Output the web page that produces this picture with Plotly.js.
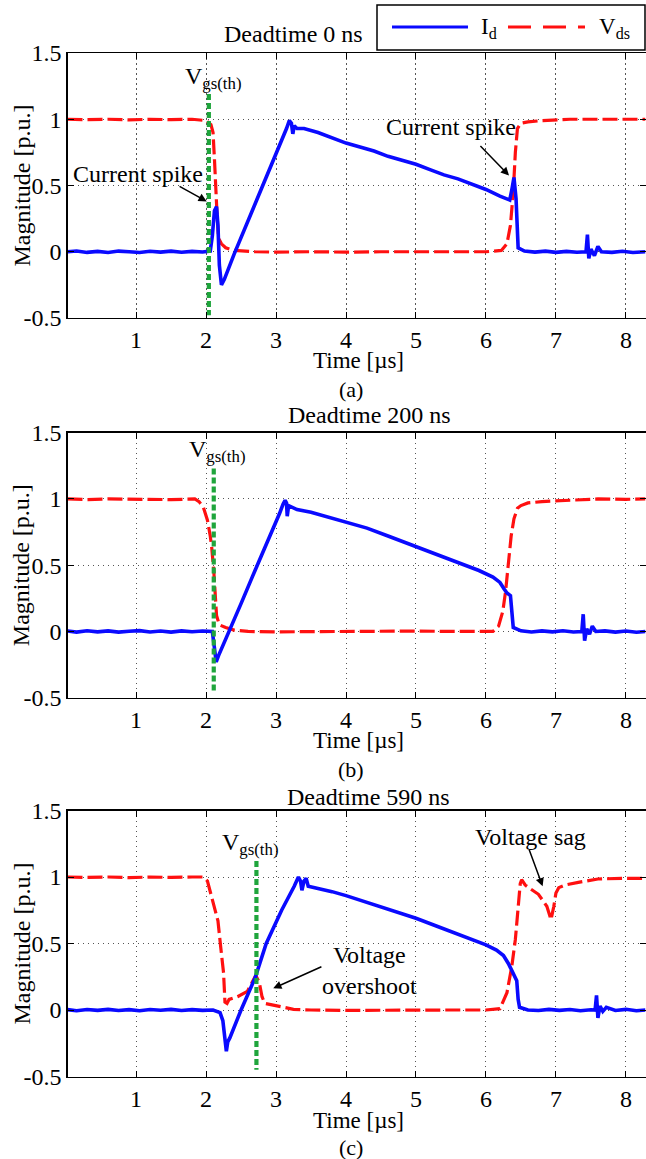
<!DOCTYPE html>
<html><head><meta charset="utf-8">
<script src="https://cdn.plot.ly/plotly-3.0.1.min.js"></script>
<style>html,body{margin:0;padding:0;background:#fff;} #chart{width:646px;height:1159px;}</style>
</head><body><div id="chart"></div>
<script>
// ---------- data (time in µs, magnitude in p.u.) ----------
const panelTitles = ['Deadtime 0 ns', 'Deadtime 200 ns', 'Deadtime 590 ns'];
const panelCaptions = ['(a)', '(b)', '(c)'];
const xAxisTitle = 'Time [µs]';
const yAxisTitle = 'Magnitude [p.u.]';
const xTickVals = [1, 2, 3, 4, 5, 6, 7, 8];
const yTickVals = [-0.5, 0, 0.5, 1, 1.5];
const yTickText = ['-0.5', '0', '0.5', '1', '1.5'];

// Panel (a) – deadtime 0 ns
const timeIdA = [0.02,0.15,0.3,0.45,0.6,0.75,0.9,1.05,1.2,1.35,1.5,1.65,1.8,1.95,2.06,2.09,2.12,2.15,2.17,2.19,2.22,2.26,2.4,2.6,2.8,3.0,3.15,3.19,3.22,3.24,3.26,3.3,3.4,3.6,3.8,4.0,4.2,4.4,4.6,4.8,5.0,5.2,5.4,5.6,5.8,6.0,6.2,6.34,6.37,6.4,6.43,6.46,6.55,6.7,6.85,7.0,7.15,7.3,7.43,7.45,7.47,7.5,7.55,7.6,7.65,7.8,7.95,8.1,8.28];
const idA = [0.0,0.006,-0.005,0.003,-0.006,0.005,0.0,-0.006,0.004,-0.003,0.005,-0.004,0.003,-0.002,0.005,0.12,0.31,0.34,0.2,-0.1,-0.25,-0.21,-0.02,0.23,0.48,0.73,0.93,0.99,0.97,0.89,0.95,0.93,0.93,0.9,0.86,0.82,0.79,0.76,0.72,0.69,0.66,0.62,0.58,0.55,0.51,0.47,0.42,0.39,0.47,0.56,0.4,0.03,0.005,-0.003,0.005,-0.005,0.003,-0.004,0.0,0.13,-0.05,0.02,-0.03,0.04,0.0,-0.005,0.004,-0.006,0.0];
const timeVdsA = [0.02,0.3,0.6,0.9,1.2,1.5,1.8,2.0,2.07,2.1,2.12,2.14,2.16,2.18,2.22,2.28,2.4,2.7,3.0,3.5,4.0,4.5,5.0,5.5,6.0,6.22,6.3,6.35,6.39,6.42,6.45,6.5,6.6,6.8,7.2,7.6,8.0,8.28];
const vdsA = [1.0,0.997,1.0,0.995,1.0,0.997,1.0,0.99,0.96,0.9,0.7,0.45,0.25,0.1,0.06,0.03,0.01,0.0,-0.003,0.0,-0.003,0.0,-0.003,0.0,0.0,0.01,0.06,0.2,0.45,0.75,0.93,0.97,0.98,0.99,1.0,0.997,1.0,1.0];

// Panel (b) – deadtime 200 ns
const timeIdB = [0.02,0.15,0.3,0.45,0.6,0.75,0.9,1.05,1.2,1.35,1.5,1.65,1.8,1.95,2.09,2.11,2.13,2.145,2.18,2.3,2.5,2.7,2.9,3.05,3.1,3.13,3.15,3.16,3.18,3.22,3.3,3.5,3.7,4.0,4.3,4.6,5.0,5.3,5.6,5.9,6.1,6.2,6.26,6.3,6.35,6.37,6.39,6.5,6.65,6.8,6.95,7.1,7.25,7.37,7.39,7.41,7.44,7.48,7.52,7.57,7.7,7.85,8.0,8.15,8.28];
const idB = [0.003,-0.005,0.005,-0.003,0.004,-0.005,0.002,0.006,-0.004,0.003,-0.005,0.004,-0.002,0.003,0.0,-0.08,-0.2,-0.23,-0.18,-0.04,0.21,0.46,0.7,0.89,0.96,0.99,0.97,0.87,0.95,0.94,0.92,0.9,0.87,0.83,0.78,0.72,0.64,0.58,0.52,0.46,0.41,0.37,0.32,0.29,0.27,0.1,0.03,0.005,-0.004,0.004,-0.003,0.005,-0.004,0.0,0.13,-0.07,0.02,-0.02,0.04,0.0,0.004,-0.005,0.003,-0.006,0.0];
const timeVdsB = [0.02,0.3,0.6,0.9,1.2,1.5,1.84,1.9,1.96,2.02,2.06,2.08,2.11,2.13,2.15,2.19,2.28,2.4,2.6,3.0,3.5,4.0,4.5,5.0,5.5,6.1,6.18,6.24,6.28,6.32,6.36,6.4,6.45,6.5,6.6,6.8,7.2,7.6,8.0,8.28];
const vdsB = [1.0,0.995,1.0,0.997,1.0,0.995,1.0,0.98,0.94,0.84,0.72,0.64,0.46,0.25,0.12,0.05,0.03,0.01,0.0,-0.003,0.0,-0.003,0.0,0.003,0.0,0.0,0.04,0.15,0.3,0.5,0.72,0.85,0.93,0.95,0.97,0.98,0.99,1.0,0.997,1.0];

// Panel (c) – deadtime 590 ns
const timeIdC = [0.02,0.15,0.3,0.45,0.6,0.75,0.9,1.05,1.2,1.35,1.5,1.65,1.8,1.95,2.1,2.2,2.24,2.27,2.29,2.31,2.34,2.5,2.7,2.86,3.08,3.26,3.32,3.35,3.37,3.4,3.43,3.46,3.55,3.8,4.0,4.3,4.6,5.0,5.3,5.6,5.8,6.0,6.15,6.25,6.32,6.38,6.44,6.46,6.48,6.6,6.75,6.9,7.05,7.2,7.35,7.5,7.56,7.58,7.6,7.63,7.67,7.72,7.85,8.0,8.15,8.28];
const idC = [0.003,-0.005,0.004,-0.003,0.005,-0.004,0.003,-0.005,0.004,-0.002,0.005,-0.004,0.003,-0.003,0.0,-0.02,-0.08,-0.2,-0.31,-0.24,-0.21,0.0,0.24,0.5,0.75,0.93,1.0,0.97,0.9,0.97,0.99,0.93,0.92,0.89,0.86,0.81,0.76,0.69,0.63,0.57,0.53,0.49,0.45,0.41,0.35,0.28,0.22,0.08,0.02,0.0,-0.004,0.005,-0.003,0.004,-0.005,0.002,0.0,0.11,-0.06,0.03,-0.01,0.02,-0.004,0.005,-0.006,0.0];
const timeVdsC = [0.02,0.3,0.6,0.9,1.2,1.5,1.8,1.96,2.02,2.09,2.17,2.21,2.25,2.27,2.3,2.33,2.45,2.59,2.66,2.71,2.76,2.8,2.84,2.92,3.07,3.25,3.5,4.0,4.5,5.0,5.5,6.0,6.2,6.3,6.37,6.42,6.47,6.49,6.51,6.56,6.61,6.75,6.87,6.93,6.97,7.0,7.04,7.13,7.32,7.6,7.94,8.28];
const vdsC = [1.0,0.997,1.0,0.995,1.0,0.997,1.0,1.0,0.97,0.83,0.67,0.47,0.28,0.06,0.05,0.08,0.1,0.14,0.21,0.26,0.21,0.1,0.05,0.04,0.025,0.005,0.0,-0.003,0.0,-0.003,0.0,0.0,0.01,0.13,0.33,0.53,0.83,0.95,0.98,0.94,0.92,0.87,0.78,0.68,0.78,0.88,0.92,0.94,0.96,0.985,0.99,0.99];

// Gate threshold instant V_gs(th) per panel
const vgsTime = [2.04, 2.11, 2.72];
const vgsTop = [1.19, 1.23, 1.12];
const vgsBottom = [-0.48, -0.45, -0.45];

// Annotation positions (data units)
const vgsLabelX = [2.1, 2.16, 2.63];
const vgsLabelY = [1.31, 1.36, 1.25];

// ---------- build ----------
const FONT = 'Liberation Serif';
const FS = 24;
const BLUE = '#0a0aff', RED = '#ff1010', GREEN = '#1fa53c';
const sfx = ['', '2', '3'];
const timeId = [timeIdA, timeIdB, timeIdC];
const idVals = [idA, idB, idC];
const timeVds = [timeVdsA, timeVdsB, timeVdsC];
const vdsVals = [vdsA, vdsB, vdsC];

const traces = [];
for (let k = 0; k < 3; k++) {
  const xa = 'x' + sfx[k], ya = 'y' + sfx[k];
  traces.push({x: timeVds[k], y: vdsVals[k], xaxis: xa, yaxis: ya, type: 'scatter', mode: 'lines',
    name: 'V<sub>ds</sub>', showlegend: false, hoverinfo: 'skip',
    line: {color: RED, width: 3.2, dash: '15px,5px'}});
  traces.push({x: timeId[k], y: idVals[k], xaxis: xa, yaxis: ya, type: 'scatter', mode: 'lines',
    name: 'I<sub>d</sub>', showlegend: false, hoverinfo: 'skip',
    line: {color: BLUE, width: 3.6}});
  traces.push({x: [vgsTime[k], vgsTime[k]], y: [vgsTop[k], vgsBottom[k]], xaxis: xa, yaxis: ya,
    type: 'scatter', mode: 'lines', name: 'V<sub>gs(th)</sub>', showlegend: false, hoverinfo: 'skip',
    line: {color: GREEN, width: 4.2, dash: '6px,3px'}});
}

const W = 646, H = 1159;
const plotTop = [53, 432.7, 810.5];
const plotBot = [318, 697.7, 1076.5];
const xTitleY = [360.5, 740, 1120];
const captionY = [389, 769, 1147];
const xLeft = 67.5, xRight = 645.5;

const layout = {
  width: W, height: H,
  margin: {l: 0, r: 0, t: 0, b: 0},
  paper_bgcolor: '#fff', plot_bgcolor: '#fff',
  showlegend: false,
  font: {family: FONT, size: FS, color: '#000'},
  annotations: [], shapes: []
};

for (let k = 0; k < 3; k++) {
  const xk = 'xaxis' + sfx[k], yk = 'yaxis' + sfx[k];
  layout[xk] = {
    domain: [xLeft / W, xRight / W], anchor: 'y' + sfx[k], range: [0.02, 8.28],
    tickvals: xTickVals, ticks: 'inside', ticklen: 6, tickcolor: '#000', tickwidth: 1,
    showline: true, mirror: 'ticks', linecolor: '#000', linewidth: 1.3,
    showgrid: true, gridcolor: '#555', gridwidth: 1, griddash: '1.5px,3.5px', zeroline: false,
    tickfont: {family: FONT, size: FS, color: '#000'},
    automargin: false, fixedrange: true
  };
  layout[yk] = {
    domain: [1 - plotBot[k] / H, 1 - plotTop[k] / H], anchor: 'x' + sfx[k], range: [-0.5, 1.5],
    tickvals: yTickVals, ticktext: yTickText, ticks: 'inside', ticklen: 6, tickcolor: '#000', tickwidth: 1,
    showline: true, mirror: 'ticks', linecolor: '#000', linewidth: 1.3,
    showgrid: true, gridcolor: '#555', gridwidth: 1, griddash: '1.5px,3.5px', zeroline: false,
    tickfont: {family: FONT, size: FS, color: '#000'},
    automargin: false, fixedrange: true
  };
  // axis titles (placed as annotations to sit tight like the original)
  layout.annotations.push({xref: 'paper', yref: 'paper', x: 358 / W, y: 1 - xTitleY[k] / H,
    text: xAxisTitle, showarrow: false, xanchor: 'center', yanchor: 'middle',
    font: {family: FONT, size: 23, color: '#000'}});
  layout.annotations.push({xref: 'paper', yref: 'paper', x: 21 / W, y: 1 - (plotTop[k] + plotBot[k]) / 2 / H,
    text: yAxisTitle, textangle: -90, showarrow: false, xanchor: 'center', yanchor: 'middle',
    font: {family: FONT, size: FS, color: '#000'}});
  // V_gs(th) label
  layout.annotations.push({xref: 'x' + sfx[k], yref: 'y' + sfx[k], x: vgsLabelX[k], y: vgsLabelY[k],
    text: 'V<sub>gs(th)</sub>', showarrow: false, xanchor: 'center', yanchor: 'middle',
    font: {family: FONT, size: FS, color: '#000'}});
  // caption
  layout.annotations.push({xref: 'paper', yref: 'paper', x: 351.5 / W, y: 1 - captionY[k] / H,
    text: panelCaptions[k], showarrow: false, xanchor: 'center', yanchor: 'middle',
    font: {family: FONT, size: 22, color: '#000'}});
}
// panel titles
const titlePos = [[293, 34.5], [369, 415], [368.5, 796.5]];
for (let k = 0; k < 3; k++) {
  layout.annotations.push({xref: 'paper', yref: 'paper', x: titlePos[k][0] / W, y: 1 - titlePos[k][1] / H,
    text: panelTitles[k], showarrow: false, xanchor: 'center', yanchor: 'middle',
    font: {family: FONT, size: FS, color: '#000'}});
}

// text callouts with arrows
function label(ax, x, y, text) {
  layout.annotations.push({xref: 'x' + ax, yref: 'y' + ax, x: x, y: y, text: text, showarrow: false,
    xanchor: 'center', yanchor: 'middle', font: {family: FONT, size: FS, color: '#000'}});
}
function arrow(ax, tailX, tailY, tipX, tipY) {
  layout.annotations.push({xref: 'x' + ax, yref: 'y' + ax, axref: 'x' + ax, ayref: 'y' + ax,
    x: tipX, y: tipY, ax: tailX, ay: tailY, text: '', showarrow: true,
    arrowhead: 2, arrowsize: 1.1, arrowwidth: 1.5, arrowcolor: '#000', standoff: 0, startstandoff: 0});
}
label('', 1.03, 0.59, 'Current spike');
arrow('', 1.6, 0.5, 2.01, 0.38);
label('', 5.5, 0.94, 'Current spike');
arrow('', 5.9, 0.81, 6.33, 0.575);
label('3', 6.64, 1.30, 'Voltage sag');
arrow('3', 6.61, 1.216, 6.81, 0.93);
label('3', 4.34, 0.30, 'Voltage<br>overshoot');
arrow('3', 3.67, 0.33, 2.96, 0.163);

// legend box (drawn to match the long line samples)
const legY = 1 - 27 / H;
layout.shapes.push({type: 'rect', xref: 'paper', yref: 'paper', x0: 377 / W, x1: 645 / W,
  y0: 1 - 50 / H, y1: 1 - 5 / H, line: {color: '#000', width: 1.5}, fillcolor: '#fff', layer: 'above'});
layout.shapes.push({type: 'line', xref: 'paper', yref: 'paper', x0: 392 / W, x1: 468 / W, y0: legY, y1: legY,
  line: {color: BLUE, width: 3}, layer: 'above'});
layout.shapes.push({type: 'line', xref: 'paper', yref: 'paper', x0: 508 / W, x1: 585 / W, y0: legY, y1: legY,
  line: {color: RED, width: 3, dash: '23px,12px'}, layer: 'above'});
layout.annotations.push({xref: 'paper', yref: 'paper', x: 479 / W, y: 1 - 28 / H, text: 'I<sub>d</sub>',
  showarrow: false, xanchor: 'left', yanchor: 'middle', font: {family: FONT, size: 23, color: '#000'}});
layout.annotations.push({xref: 'paper', yref: 'paper', x: 597 / W, y: 1 - 28 / H, text: 'V<sub>ds</sub>',
  showarrow: false, xanchor: 'left', yanchor: 'middle', font: {family: FONT, size: 23, color: '#000'}});

Plotly.newPlot('chart', traces, layout, {staticPlot: true, displayModeBar: false});
</script>
</body></html>
